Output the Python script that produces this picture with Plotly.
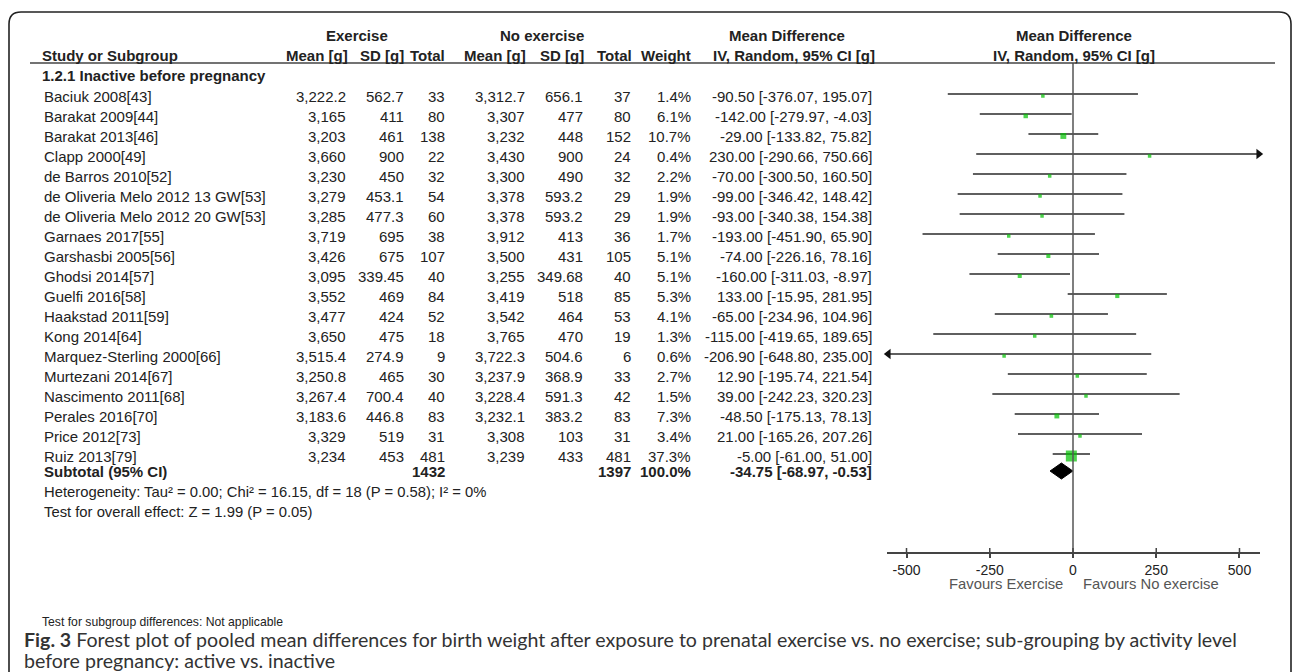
import plotly.graph_objects as go

# ---------------- data ----------------
studies = ["Baciuk 2008[43]", "Barakat 2009[44]", "Barakat 2013[46]", "Clapp 2000[49]",
           "de Barros 2010[52]", "de Oliveria Melo 2012 13 GW[53]", "de Oliveria Melo 2012 20 GW[53]",
           "Garnaes 2017[55]", "Garshasbi 2005[56]", "Ghodsi 2014[57]", "Guelfi 2016[58]",
           "Haakstad 2011[59]", "Kong 2014[64]", "Marquez-Sterling 2000[66]", "Murtezani 2014[67]",
           "Nascimento 2011[68]", "Perales 2016[70]", "Price 2012[73]", "Ruiz 2013[79]"]
ex_mean = [3222.2, 3165, 3203, 3660, 3230, 3279, 3285, 3719, 3426, 3095, 3552, 3477, 3650,
           3515.4, 3250.8, 3267.4, 3183.6, 3329, 3234]
ex_sd = [562.7, 411, 461, 900, 450, 453.1, 477.3, 695, 675, 339.45, 469, 424, 475, 274.9,
         465, 700.4, 446.8, 519, 453]
ex_n = [33, 80, 138, 22, 32, 54, 60, 38, 107, 40, 84, 52, 18, 9, 30, 40, 83, 31, 481]
no_mean = [3312.7, 3307, 3232, 3430, 3300, 3378, 3378, 3912, 3500, 3255, 3419, 3542, 3765,
           3722.3, 3237.9, 3228.4, 3232.1, 3308, 3239]
no_sd = [656.1, 477, 448, 900, 490, 593.2, 593.2, 413, 431, 349.68, 518, 464, 470, 504.6,
         368.9, 591.3, 383.2, 103, 433]
no_n = [37, 80, 152, 24, 32, 29, 29, 36, 105, 40, 85, 53, 19, 6, 33, 42, 83, 31, 481]
weight = [1.4, 6.1, 10.7, 0.4, 2.2, 1.9, 1.9, 1.7, 5.1, 5.1, 5.3, 4.1, 1.3, 0.6, 2.7, 1.5,
          7.3, 3.4, 37.3]
md = [-90.50, -142.00, -29.00, 230.00, -70.00, -99.00, -93.00, -193.00, -74.00, -160.00,
      133.00, -65.00, -115.00, -206.90, 12.90, 39.00, -48.50, 21.00, -5.00]
ci_lo = [-376.07, -279.97, -133.82, -290.66, -300.50, -346.42, -340.38, -451.90, -226.16,
         -311.03, -15.95, -234.96, -419.65, -648.80, -195.74, -242.23, -175.13, -165.26, -61.00]
ci_hi = [195.07, -4.03, 75.82, 750.66, 160.50, 148.42, 154.38, 65.90, 78.16, -8.97, 281.95,
         104.96, 189.65, 235.00, 221.54, 320.23, 78.13, 207.26, 51.00]

sub_ex_n = 1432
sub_no_n = 1397
sub_weight = 100.0
sub_md, sub_lo, sub_hi = -34.75, -68.97, -0.53

tick_vals = [-500, -250, 0, 250, 500]
subgroup_label = "1.2.1 Inactive before pregnancy"
heterogeneity = "Heterogeneity: Tau² = 0.00; Chi² = 16.15, df = 18 (P = 0.58); I² = 0%"
overall = "Test for overall effect: Z = 1.99 (P = 0.05)"
subgroup_diff = "Test for subgroup differences: Not applicable"
fav_left, fav_right = "Favours Exercise", "Favours No exercise"
caption_lines = ["<b>Fig. 3</b> Forest plot of pooled mean differences for birth weight after exposure "
                 "to prenatal exercise vs. no exercise; sub-grouping by activity level",
                 "before pregnancy: active vs. inactive"]

# ---------------- layout helpers ----------------
W, H = 1292, 672
ROW0, ROWH = 96, 20          # pixel of first study row, row height
AX_Y = 552                   # pixel of x-axis line
X_MIN, X_MAX = -558.6, 561.6


def prow(p):
    return (p - ROW0) / ROWH


def px(x):
    return x / W


def py(y):
    return 1 - y / H


FONT = "Liberation Sans, Arial, sans-serif"
TXT = "#222"
FS = 15

fig = go.Figure()

n = len(studies)
rows = list(range(n))

# CI lines (clipped to axis) with arrows
lx, ly = [], []
ar_r_x, ar_r_y, ar_l_x, ar_l_y = [], [], [], []
for i in rows:
    lo = max(ci_lo[i], X_MIN + 4)
    hi = min(ci_hi[i], X_MAX - 4)
    lx += [lo, hi, None]
    ly += [i - 0.1, i - 0.1, None]
    if ci_hi[i] > X_MAX:
        ar_r_x.append(hi)
        ar_r_y.append(i - 0.1)
    if ci_lo[i] < X_MIN:
        ar_l_x.append(lo)
        ar_l_y.append(i - 0.1)

fig.add_trace(go.Scatter(x=lx, y=ly, mode="lines", line=dict(color="#2a2a2a", width=1.5),
                         hoverinfo="skip", showlegend=False))
fig.add_trace(go.Scatter(x=ar_r_x, y=ar_r_y, mode="markers",
                         marker=dict(symbol="triangle-right", size=9, color="#111"),
                         cliponaxis=False, showlegend=False, hoverinfo="skip"))
fig.add_trace(go.Scatter(x=ar_l_x, y=ar_l_y, mode="markers",
                         marker=dict(symbol="triangle-left", size=9, color="#111"),
                         cliponaxis=False, showlegend=False, hoverinfo="skip"))

# squares sized by weight
sizes = [max(3.5, 1.8 * w ** 0.5) for w in weight]
fig.add_trace(go.Scatter(x=md, y=rows, mode="markers",
                         marker=dict(symbol="square", size=sizes, color="#00c000",
                                     line=dict(width=0)),
                         cliponaxis=False, showlegend=False, hoverinfo="skip"))

# subtotal diamond
r_sub = prow(471)
fig.add_trace(go.Scatter(x=[sub_lo, sub_md, sub_hi, sub_md, sub_lo],
                         y=[r_sub, r_sub - 0.4, r_sub, r_sub + 0.4, r_sub],
                         mode="lines", fill="toself", fillcolor="#000",
                         line=dict(color="#000", width=1), showlegend=False, hoverinfo="skip"))

shapes = []
# zero line
shapes.append(dict(type="line", xref="x", yref="y", x0=0, x1=0, y0=prow(63), y1=prow(AX_Y),
                   line=dict(color="#555", width=1.5)))
# upper halves of the axis ticks (ticks cross the axis line)
for v in tick_vals:
    shapes.append(dict(type="line", xref="x", yref="y", x0=v, x1=v, y0=prow(AX_Y - 4),
                       y1=prow(AX_Y), line=dict(color="#444", width=1.5)))
# header underline
shapes.append(dict(type="line", xref="paper", yref="paper", x0=px(30), x1=px(1275),
                   y0=py(63), y1=py(63), line=dict(color="#444", width=1.3)))
# rounded frame
shapes.append(dict(type="path", xref="paper", yref="paper",
                   path=(f"M {px(9)},{py(672)} L {px(9)},{py(24)} Q {px(9)},{py(12)} {px(21)},{py(12)} "
                         f"L {px(1279)},{py(12)} Q {px(1291)},{py(12)} {px(1291)},{py(24)} "
                         f"L {px(1291)},{py(672)}"),
                   line=dict(color="#222", width=1.6)))

ann = []


def T(x, y, text, anchor="left", bold=False, size=FS, color=TXT, yref="y", family=FONT):
    ann.append(dict(x=px(x), xref="paper", y=y, yref=yref, text=f"<b>{text}</b>" if bold else text,
                    showarrow=False, xanchor=anchor, yanchor="middle", align="left",
                    font=dict(family=family, size=size, color=color)))


def fmt(v):
    return f"{v:,}"


# headers
T(357, prow(35), "Exercise", "center", True)
T(542, prow(35), "No exercise", "center", True)
T(787, prow(35), "Mean Difference", "center", True)
T(1074, prow(35), "Mean Difference", "center", True)
T(40, prow(55), "Study or Subgroup", "left", True)
T(350, prow(55), "Mean [g]", "right", True)
T(406, prow(55), "SD [g]", "right", True)
T(447, prow(55), "Total", "right", True)
T(528, prow(55), "Mean [g]", "right", True)
T(586, prow(55), "SD [g]", "right", True)
T(634, prow(55), "Total", "right", True)
T(693, prow(55), "Weight", "right", True)
T(794, prow(55), "IV, Random, 95% CI [g]", "center", True)
T(1074, prow(55), "IV, Random, 95% CI [g]", "center", True)
T(40, prow(75), subgroup_label, "left", True)

for i in rows:
    T(42, i, studies[i])
    T(348, i, fmt(ex_mean[i]), "right")
    T(406, i, fmt(ex_sd[i]), "right")
    T(447, i, str(ex_n[i]), "right")
    T(527, i, fmt(no_mean[i]), "right")
    T(585, i, fmt(no_sd[i]), "right")
    T(633, i, str(no_n[i]), "right")
    T(693, i, f"{weight[i]:.1f}%", "right")
    T(874, i, f"{md[i]:.2f} [{ci_lo[i]:.2f}, {ci_hi[i]:.2f}]", "right")

T(42, r_sub, "Subtotal (95% CI)", "left", True)
T(447, r_sub, str(sub_ex_n), "right", True)
T(633, r_sub, str(sub_no_n), "right", True)
T(693, r_sub, f"{sub_weight:.1f}%", "right", True)
T(874, r_sub, f"{sub_md:.2f} [{sub_lo:.2f}, {sub_hi:.2f}]", "right", True)
T(42, prow(492), heterogeneity, "left", size=14.8)
T(42, prow(512), overall, "left", size=14.8)

# favours labels & footer (paper coords)
T(1065, py(584), fav_left, "right", size=14.8, color="#555", yref="paper")
T(1081, py(584), fav_right, "left", size=14.8, color="#555", yref="paper")
T(40, py(622), subgroup_diff, "left", size=12.2, yref="paper")
T(22, py(639), caption_lines[0], "left", size=19.6, color="#333", yref="paper",
  family="Lato, sans-serif")
T(22, py(660), caption_lines[1], "left", size=19.6, color="#333", yref="paper",
  family="Lato, sans-serif")

fig.update_layout(
    width=W, height=H, margin=dict(l=0, r=0, t=0, b=0),
    paper_bgcolor="white", plot_bgcolor="rgba(0,0,0,0)",
    shapes=shapes, annotations=ann, showlegend=False,
    xaxis=dict(domain=[px(887), px(1260)], range=[X_MIN, X_MAX], tickvals=tick_vals,
               ticktext=[str(v) for v in tick_vals], showgrid=False, zeroline=False,
               showline=True, linecolor="#444", linewidth=1.5, ticks="outside", ticklen=4,
               tickwidth=1.5, tickcolor="#444", tickfont=dict(family=FONT, size=14, color=TXT),
               fixedrange=True),
    yaxis=dict(domain=[1 - AX_Y / H, 1], range=[prow(AX_Y), prow(0)], visible=False,
               fixedrange=True),
)

fig.write_html("out.html", config={"displayModeBar": False},
               post_script="document.body.style.margin='0px';")
